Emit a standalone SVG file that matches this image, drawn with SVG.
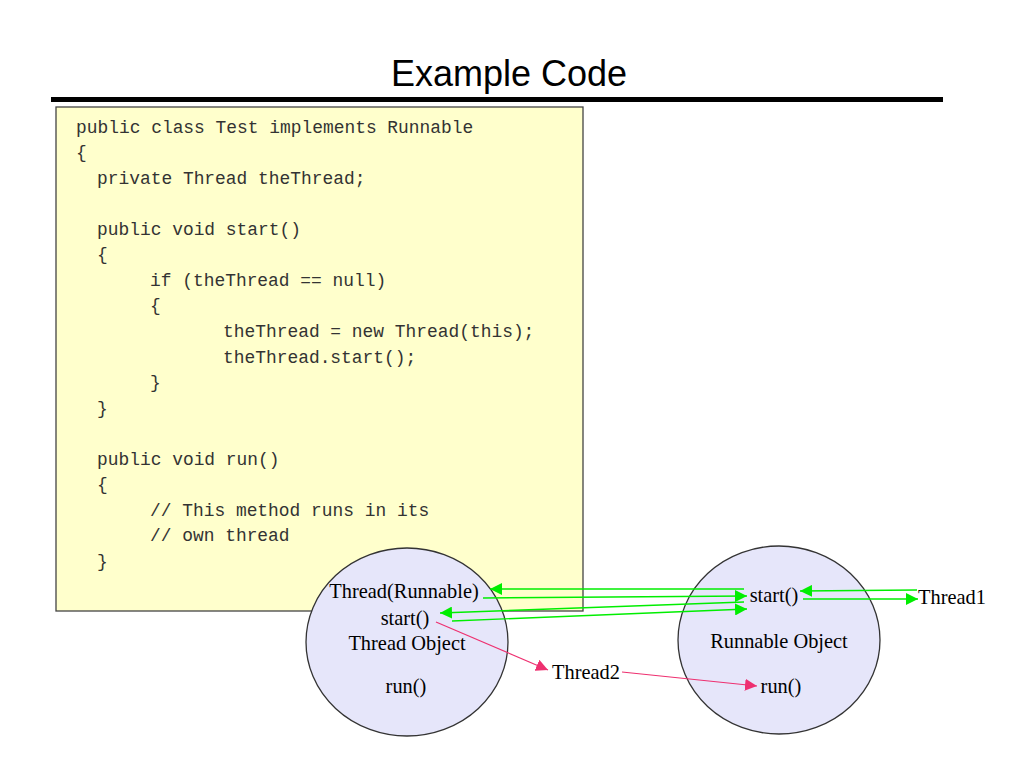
<svg xmlns="http://www.w3.org/2000/svg" width="1024" height="768" viewBox="0 0 1024 768">
<defs>
<style>
.title{font-family:"Liberation Sans",Arial,sans-serif;font-size:36px;fill:#000}
.code{font-family:"Liberation Mono","Courier New",monospace;font-size:17.9px;fill:#333;white-space:pre}
.lbl{font-family:"Liberation Serif","Times New Roman",serif;font-size:20.4px;fill:#000}
.node{fill:#e6e6fa;stroke:#333;stroke-width:1.3}
.g{stroke:#00ee00;stroke-width:1.4;fill:none}
.p{stroke:#ee3070;stroke-width:1.2;fill:none}
</style>
<marker id="ag" viewBox="0 0 10 10" refX="10" refY="5" markerWidth="12" markerHeight="12" markerUnits="userSpaceOnUse" orient="auto"><path d="M0,0 L10,5 L0,10 z" fill="#00ee00"/></marker>
<marker id="ap" viewBox="0 0 10 10" refX="10" refY="5" markerWidth="12" markerHeight="12" markerUnits="userSpaceOnUse" orient="auto"><path d="M0,0 L10,5 L0,10 z" fill="#ee3070"/></marker>
</defs>
<rect width="1024" height="768" fill="#fff"/>
<text class="title" x="509" y="86" text-anchor="middle">Example Code</text>
<rect x="51" y="97" width="892" height="5" fill="#000"/>
<g id="code">
<rect x="56" y="107" width="527" height="504" fill="#ffffcc" stroke="#444" stroke-width="1.3"/>
<text class="code" x="76" y="133">public class Test implements Runnable</text>
<text class="code" x="76" y="158">{</text>
<text class="code" x="97" y="184">private Thread theThread;</text>
<text class="code" x="97" y="235">public void start()</text>
<text class="code" x="97" y="260">{</text>
<text class="code" x="150" y="286">if (theThread == null)</text>
<text class="code" x="150" y="311">{</text>
<text class="code" x="223" y="337">theThread = new Thread(this);</text>
<text class="code" x="223" y="363">theThread.start();</text>
<text class="code" x="150" y="388">}</text>
<text class="code" x="97" y="414">}</text>
<text class="code" x="97" y="465">public void run()</text>
<text class="code" x="97" y="490">{</text>
<text class="code" x="150" y="516">// This method runs in its</text>
<text class="code" x="150" y="541">// own thread</text>
<text class="code" x="97" y="567">}</text>
</g>
<g id="threadObject">
<ellipse class="node" cx="407" cy="642" rx="101" ry="94"/>
<text class="lbl" x="404" y="598" text-anchor="middle">Thread(Runnable)</text>
<text class="lbl" x="405" y="625" text-anchor="middle">start()</text>
<text class="lbl" x="407" y="650" text-anchor="middle">Thread Object</text>
<text class="lbl" x="406" y="693" text-anchor="middle">run()</text>
</g>
<g id="runnableObject">
<ellipse class="node" cx="779" cy="640" rx="101" ry="94"/>
<text class="lbl" x="774" y="602" text-anchor="middle">start()</text>
<text class="lbl" x="779" y="648" text-anchor="middle">Runnable Object</text>
<text class="lbl" x="781" y="693" text-anchor="middle">run()</text>
</g>
<g id="thread1"><text class="lbl" x="918" y="604">Thread1</text></g>
<g id="thread2"><text class="lbl" x="552" y="679">Thread2</text></g>
<g id="connectors">
<line class="g" x1="744" y1="589" x2="490" y2="589" marker-end="url(#ag)"/>
<line class="g" x1="483" y1="598" x2="747" y2="596" marker-end="url(#ag)"/>
<line class="g" x1="744" y1="602" x2="440" y2="613" marker-end="url(#ag)"/>
<line class="g" x1="452" y1="621" x2="747" y2="609" marker-end="url(#ag)"/>
<line class="g" x1="917" y1="590" x2="800" y2="591" marker-end="url(#ag)"/>
<line class="g" x1="803" y1="599" x2="918" y2="599" marker-end="url(#ag)"/>
<line class="p" x1="436" y1="622" x2="548" y2="670" marker-end="url(#ap)"/>
<line class="p" x1="622" y1="672" x2="757" y2="686" marker-end="url(#ap)"/>
</g>
</svg>
